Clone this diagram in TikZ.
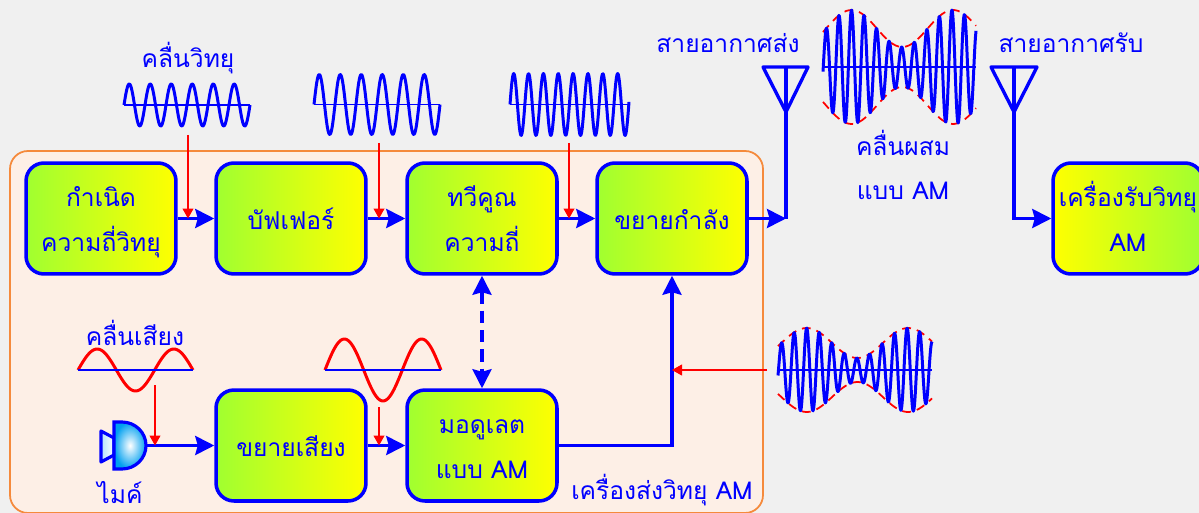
\documentclass[tikz,border=0pt]{standalone}
\usepackage{fontspec}
\usetikzlibrary{arrows.meta}
\newfontfamily\thaifont[Script=Thai]{Loma}
\definecolor{pagegray}{HTML}{F0F0F0}
\definecolor{framefill}{HTML}{FDEFE6}
\definecolor{frameline}{HTML}{F58A3C}
\definecolor{boxgreen}{HTML}{A0FF30}
\definecolor{wireblue}{HTML}{0000FF}
\definecolor{micblue}{HTML}{00A0F0}
\newcommand{\lowline}[2]{\raisebox{#1}[11pt][4pt]{#2}}
\tikzset{
  blockbox/.style={draw=wireblue, line width=2pt, rounded corners=0.36cm,
    left color=boxgreen, right color=yellow, minimum width=3cm, minimum height=2.22cm,
    inner sep=0pt, align=center, text=wireblue, font=\thaifont\fontsize{14}{25.5}\selectfont},
  caption/.style={text=wireblue, align=center, inner sep=0pt, font=\thaifont\fontsize{14}{25.5}\selectfont},
  wire/.style={draw=wireblue, line width=1.9pt},
  signal/.style={wire, -{Stealth[length=0.38cm,width=0.38cm,inset=0.05cm]}},
  hint/.style={draw=red, line width=0.6pt, -{Triangle[length=0.2cm,width=0.22cm]}},
  wave/.style={draw=wireblue, line width=1.7pt, line join=round},
  baseline/.style={draw=wireblue, line width=1.1pt},
  audio/.style={draw=red, line width=1.7pt, line join=round},
  envelope/.style={draw=red, line width=1pt, dash pattern=on 5pt off 3.5pt}
}
\begin{document}
\begin{tikzpicture}[x=0.02cm, y=-0.02cm]
  % x0, x1, yc, amplitude, period
  \def\carrier#1#2#3#4#5{
    \draw[baseline] (#1,#3) -- (#2,#3);
    \draw[wave] plot[smooth, samples=190, domain=#1:#2] (\x,{#3-#4*sin((\x-#1)/#5*360)});
  }
  % x0, x1, yc, mean, swing, x of the peak
  \def\amwave#1#2#3#4#5#6{
    \draw[envelope] plot[smooth, samples=60, domain=#1:#2] (\x,{#3-(#4+#5*cos((\x-#6)/101.5*360))});
    \draw[envelope] plot[smooth, samples=60, domain=#1:#2] (\x,{#3+(#4+#5*cos((\x-#6)/101.5*360))});
    \draw[baseline] (#1,#3) -- (#2,#3);
    \draw[wave] plot[smooth, samples=300, domain=#1:#2]
      (\x,{#3-(#4+#5*cos((\x-#6)/101.5*360))*cos((\x-#6)/12.55*360)});
  }
  % x0, x1, yc, amplitude
  \def\tone#1#2#3#4{
    \draw[audio] plot[smooth, samples=80, domain=#1:#2] (\x,{#3-#4*sin((\x-#1)/(#2-#1)*540)});
    \draw[baseline] (#1,#3) -- (#2,#3);
  }

  % 1. Background
  \clip (0,0) rectangle (1199,513);
  \fill[pagegray] (0,0) rectangle (1199,513);
  \draw[draw=frameline, fill=framefill, line width=1pt, rounded corners=0.36cm]
    (10,151) rectangle (763,513);

  % 2. Blocks
  \node[blockbox] (gen) at (101,218.5) {\lowline{-2.5pt}{กำเนิด}\\\lowline{-2.5pt}{ความถี่วิทยุ}};
  \node[blockbox] (buffer) at (291,218.5) {\lowline{-2.5pt}{บัฟเฟอร์}};
  \node[blockbox] (doubler) at (482,218.5) {\lowline{-2.5pt}{ทวีคูณ}\\\lowline{-2.5pt}{ความถี่}};
  \node[blockbox] (power) at (672,218.5) {\lowline{-2.5pt}{ขยายกำลัง}};
  \node[blockbox] (audioamp) at (291,445.5) {\lowline{-2.5pt}{ขยายเสียง}};
  \node[blockbox] (modulator) at (482,445.5) {\lowline{-2.5pt}{มอดูเลต}\\\lowline{-2.5pt}{แบบ AM}};
  \node[blockbox, left color=yellow, right color=boxgreen] (receiver) at (1128,218.5) {\lowline{-2.5pt}{เครื่องรับวิทยุ}\\\lowline{-2.5pt}{AM}};

  % 3. Labels
  \node[caption] (lradio) at (188,58) {คลื่นวิทยุ};
  \node[caption] (ltx) at (728,43) {สายอากาศส่ง};
  \node[caption] (lrx) at (1071,43) {สายอากาศรับ};
  \node[caption] (lmix) at (903,165) {คลื่นผสม\\แบบ AM};
  \node[caption] (lsound) at (135,333) {คลื่นเสียง};
  \node[caption] (lmic) at (120,497) {\lowline{0pt}{ไมค์}};
  \node[caption] (lsender) at (662,493) {\lowline{0pt}{เครื่องส่งวิทยุ AM}};

  % 4. Waves
  \carrier{124}{250}{105}{21}{21}
  \carrier{314}{440}{104.5}{30}{21}
  \carrier{510}{629}{104.5}{31}{14.85}
  \amwave{823}{976}{67}{38.5}{18.5}{851.5}
  \amwave{778}{932}{370}{27}{15}{806.7}
  \tone{78}{193}{370}{21}
  \tone{325}{441}{370}{31}

  % 5. Antennas
  \coordinate (txtop) at (786,67);
  \coordinate (txfoot) at (786,218.5);
  \coordinate (rxtop) at (1014,67);
  \coordinate (rxfoot) at (1014,218.5);
  \draw[wire, line join=round] (763,67) -- (808,67) -- (786,112) -- cycle;
  \draw[wire, line join=round] (991,67) -- (1037,67) -- (1014,112) -- cycle;

  % 6. Microphone
  \draw[draw=wireblue, line width=1.8pt, line join=round, left color=white!70!micblue, right color=white]
    (101,431) -- (114,438) -- (114,455) -- (101,462) -- cycle;
  \draw[draw=wireblue, line width=1.8pt, inner color=white, outer color=micblue]
    (114,422) -- (122,422) arc[start angle=90, end angle=-90, x radius=0.48cm, y radius=0.47cm] -- (114,469) -- cycle;
  \coordinate (micout) at (146,445.5);

  % 7. Connectors
  \draw[signal] (gen) -- (buffer);
  \draw[signal] (buffer) -- (doubler);
  \draw[signal] (doubler) -- (power);
  \draw[signal] (micout) -- (audioamp);
  \draw[signal] (audioamp) -- (modulator);
  \draw[signal] (modulator.east) -| (power.south);
  \draw[wire, {Stealth[length=0.38cm,width=0.38cm,inset=0.05cm]}-{Stealth[length=0.38cm,width=0.38cm,inset=0.05cm]}, dash pattern=on 7pt off 4pt]
    (doubler) -- (modulator);
  \draw[signal] (power) -- (txfoot);
  \draw[wire] (txfoot) -- (txtop);
  \draw[signal] (rxtop) |- (receiver.west);

  % 8. Red pointers
  \coordinate (radiotail) at (188,135);
  \coordinate (radiotip) at (188,218.5);
  \coordinate (buffertail) at (379,143);
  \coordinate (buffertip) at (379,218.5);
  \coordinate (doublertail) at (569,143);
  \coordinate (doublertip) at (569,218.5);
  \coordinate (soundtail) at (155,385);
  \coordinate (soundtip) at (155,445.5);
  \coordinate (amptail) at (379,407);
  \coordinate (amptip) at (379,445.5);
  \coordinate (amtail) at (767,370);
  \coordinate (amtip) at (672,370);
  \draw[hint] (radiotail) -- (radiotip);
  \draw[hint] (buffertail) -- (buffertip);
  \draw[hint] (doublertail) -- (doublertip);
  \draw[hint] (soundtail) -- (soundtip);
  \draw[hint] (amptail) -- (amptip);
  \draw[hint] (amtail) -- (amtip);
\end{tikzpicture}
\end{document}
